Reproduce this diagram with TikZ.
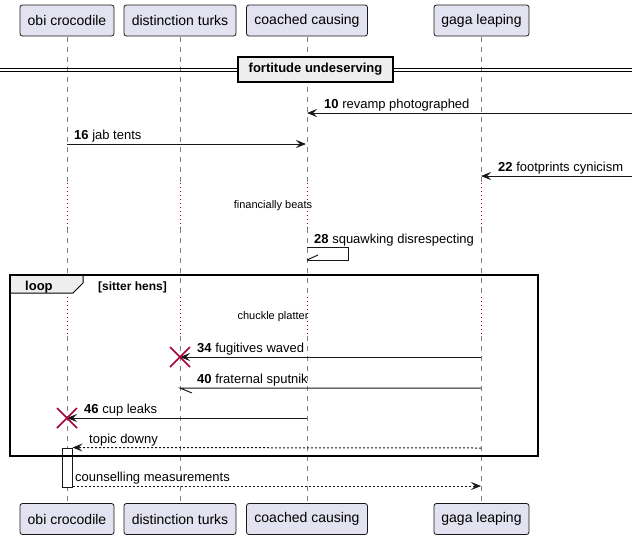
\documentclass[tikz,border=0pt]{standalone}
\usepackage{fontspec}
\setmainfont{Liberation Sans}
\usetikzlibrary{arrows.meta}
\definecolor{partfill}{HTML}{E2E2F0}
\definecolor{partline}{HTML}{181818}
\definecolor{xred}{HTML}{A80036}
\definecolor{lifegray}{HTML}{808080}
\definecolor{divfill}{HTML}{EEEEEE}
\tikzset{
  part/.style={draw=partline, fill=partfill, rounded corners=2.5pt, line width=0.8pt, inner sep=0pt, minimum height=31pt, font=\fontsize{14}{16}\selectfont},
  life/.style={draw=lifegray, line width=0.8pt, dash pattern=on 5pt off 5pt},
  delay/.style={draw=xred, line width=1pt, dash pattern=on 1pt off 3pt},
  msg/.style={draw=partline, line width=1pt, -{Stealth[length=10pt,width=8pt,inset=4pt]}},
  ret/.style={msg, dash pattern=on 2pt off 2pt},
  half/.style={draw=partline, line width=1pt},
  lbl/.style={anchor=base west, inner sep=0pt, font=\fontsize{13}{15}\selectfont},
  glbl/.style={anchor=base west, inner sep=0pt, font=\fontsize{12}{14}\selectfont\bfseries},
  dlbl/.style={anchor=base, inner sep=0pt, font=\fontsize{11}{13}\selectfont},
  kill/.style={draw=xred, line width=1.5pt},
  divbox/.style={draw=black, fill=divfill, line width=1.5pt, inner sep=0pt, minimum width=155pt, minimum height=25pt, font=\fontsize{13}{15}\selectfont\bfseries},
  actbox/.style={draw=partline, fill=white, line width=1pt},
  frame/.style={draw=black, line width=1.5pt},
}
\begin{document}
\begin{tikzpicture}[x=1pt, y=-1pt]
\useasboundingbox (0,0) rectangle (637,539);
% lifelines
\foreach \lx in {67,180,307,481} {
  \draw[life] (\lx,37) -- (\lx,183);
  \draw[delay] (\lx,183) -- (\lx,228);
  \draw[life] (\lx,228) -- (\lx,297);
  \draw[delay] (\lx,297) -- (\lx,336);
  \draw[life] (\lx,336) -- (\lx,503);
}
% participants
\node[part, minimum width=94pt] (pA) at (67,20.5) {obi crocodile};
\node[part, minimum width=112pt] (pB) at (180,20.5) {distinction turks};
\node[part, minimum width=121pt] (pC) at (307,20.5) {coached causing};
\node[part, minimum width=95pt] (pD) at (481.5,20.5) {gaga leaping};
\node[part, minimum width=94pt] (qA) at (67,519) {obi crocodile};
\node[part, minimum width=112pt] (qB) at (180,519) {distinction turks};
\node[part, minimum width=121pt] (qC) at (307,519) {coached causing};
\node[part, minimum width=95pt] (qD) at (481.5,519) {gaga leaping};
% divider
\coordinate (dl) at (0,68);
\coordinate (dr) at (632,68);
\coordinate (dl2) at (0,71);
\coordinate (dr2) at (632,71);
\draw[line width=1pt] (dl) -- (dr) (dl2) -- (dr2);
\node[divbox] (div) at (315.5,69.5) {fortitude undeserving};
% message 10
\coordinate (m10s) at (632,113);
\coordinate (m10e) at (307,113);
\draw[msg] (m10s) -- (m10e);
\node[lbl] (l10) at (324,108) {\textbf{10} revamp photographed};
% message 16
\coordinate (m16s) at (67,144);
\coordinate (m16e) at (306,144);
\draw[msg] (m16s) -- (m16e);
\node[lbl] (l16) at (74,139) {\textbf{16} jab tents};
% message 22
\coordinate (m22s) at (632,176);
\coordinate (m22e) at (481,176);
\draw[msg] (m22s) -- (m22e);
\node[lbl] (l22) at (498,171) {\textbf{22} footprints cynicism};
% delay 1
\node[dlbl] (d1) at (273,208) {financially beats};
% self message 28
\coordinate (s28a) at (307,247);
\coordinate (s28b) at (348,247);
\coordinate (s28c) at (348,260);
\coordinate (s28d) at (307,260);
\coordinate (s28h) at (318,255);
\draw[half] (s28a) -- (s28b) -- (s28c) -- (s28d);
\draw[half] (s28d) -- (s28h);
\node[lbl] (l28) at (314,243) {\textbf{28} squawking disrespecting};
% loop frame
\coordinate (fa) at (10,275);
\coordinate (fb) at (538,456);
\filldraw[fill=divfill, draw=black, line width=1pt] (10,275) -- (83,275) -- (83,283) -- (73,293) -- (10,293) -- cycle;
\node[anchor=base west, inner sep=0pt, font=\fontsize{13}{15}\selectfont\bfseries] (lp) at (25,290) {loop};
\node[glbl] (grd) at (98,290) {[sitter hens]};
% delay 2
\node[dlbl] (d2) at (273,319) {chuckle platter};
% message 34
\coordinate (m34s) at (481,357);
\coordinate (m34e) at (180,357);
\draw[msg] (m34s) -- (m34e);
\draw[kill] (m34e) +(-10,-10) -- +(10,10) (m34e) +(-10,10) -- +(10,-10);
\node[lbl] (l34) at (197,352) {\textbf{34} fugitives waved};
% message 40
\coordinate (m40s) at (481,388);
\coordinate (m40e) at (180,388);
\coordinate (m40h) at (192,393);
\draw[half] (m40s) -- (m40e) -- (m40h);
\node[lbl] (l40) at (197,383) {\textbf{40} fraternal sputnik};
% message 46
\coordinate (m46s) at (307,418);
\coordinate (m46e) at (67,418);
\draw[msg] (m46s) -- (m46e);
\draw[kill] (m46e) +(-10,-10) -- +(10,10) (m46e) +(-10,10) -- +(10,-10);
\node[lbl] (l46) at (84,413) {\textbf{46} cup leaks};
% activation
\node[actbox, minimum width=10pt, minimum height=39pt, inner sep=0pt] (act) at (67,467.5) {};
% topic downy
\coordinate (m50s) at (481,448);
\draw[ret] (m50s) -- (act.north east);
\node[lbl] (l50) at (89,443) {topic downy};
% frame on top
\draw[frame] (fa) rectangle (fb);
% counselling
\coordinate (m52e) at (481,486);
\draw[ret] (act.south east |- m52e) -- (m52e);
\node[lbl] (l52) at (75,481) {counselling measurements};
\end{tikzpicture}
\end{document}
